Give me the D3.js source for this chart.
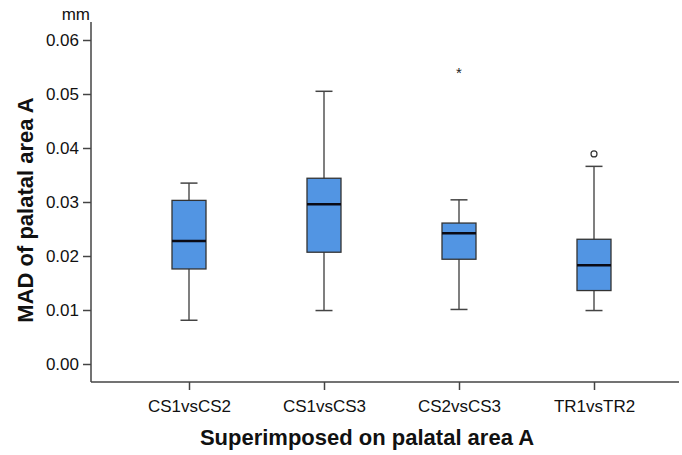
<!DOCTYPE html>
<html>
<head>
<meta charset="utf-8">
<script src="https://cdn.jsdelivr.net/npm/d3@7"></script>
<style>
  body { margin: 0; background: #fff; }
  svg { font-family: "Liberation Sans", Arial, sans-serif; }
</style>
</head>
<body>
<svg id="chart" width="682" height="455"></svg>
<script>
// groups on the x axis
const groups = ['CS1vsCS2', 'CS1vsCS3', 'CS2vsCS3', 'TR1vsTR2']
// box stats (mm)
const whiskerLow = [0.0081, 0.0099, 0.0101, 0.0099]
const q1 = [0.0176, 0.0207, 0.0194, 0.0136]
const median = [0.0228, 0.0296, 0.0242, 0.0183]
const q3 = [0.0303, 0.0344, 0.0261, 0.0231]
const whiskerHigh = [0.0335, 0.0505, 0.0304, 0.0366]
// outliers: [group, value, kind]
const outliers = [
  ['CS2vsCS3', 0.0545, 'extreme'],
  ['TR1vsTR2', 0.0389, 'outlier'],
]
const yTicks = [0, 0.01, 0.02, 0.03, 0.04, 0.05, 0.06]

const svg = d3.select('#chart')
const margins = {top: 22, right: 3, bottom: 73, left: 91}
const width = 682 - margins.left - margins.right
const height = 455 - margins.top - margins.bottom

const g = svg.append('g')
  .attr('transform', `translate(${margins.left}, ${margins.top})`)

const x = d3.scalePoint().domain(groups).range([98, 503])
const y = d3.scaleLinear().domain([0, 0.06]).range([342, 18])

const boxW = 34
const capW = 17
const axisColor = '#444'

// axes
const yAxis = g.append('g')
  .call(d3.axisLeft(y).tickValues(yTicks).tickFormat(d3.format('.2f')).tickSize(8).tickPadding(4))
yAxis.select('.domain').attr('d', `M0,0V${height}`)
const xAxis = g.append('g')
  .attr('transform', `translate(0, ${height})`)
  .call(d3.axisBottom(x).tickSize(8).tickPadding(10))
xAxis.select('.domain').attr('d', `M0,0H${width}`)

g.selectAll('.domain, .tick line')
  .attr('stroke', axisColor)
  .attr('stroke-width', 1.5)
g.selectAll('.tick text')
  .attr('font-size', 17)
  .attr('fill', '#111')

// whiskers
const stats = groups.map((k, i) => ({
  key: k, lo: whiskerLow[i], q1: q1[i], med: median[i], q3: q3[i], hi: whiskerHigh[i],
}))

const boxes = g.selectAll('.box')
  .data(stats)
  .enter()
  .append('g')
  .attr('class', 'box')
  .attr('transform', (d) => `translate(${x(d.key)}, 0)`)

boxes.append('line')
  .attr('y1', (d) => y(d.lo)).attr('y2', (d) => y(d.hi))
  .attr('stroke', '#555').attr('stroke-width', 1.5)
boxes.selectAll('.cap')
  .data((d) => [d.lo, d.hi])
  .enter()
  .append('line')
  .attr('x1', -capW / 2).attr('x2', capW / 2)
  .attr('y1', (v) => y(v)).attr('y2', (v) => y(v))
  .attr('stroke', '#444').attr('stroke-width', 1.5)
boxes.append('rect')
  .attr('x', -boxW / 2).attr('width', boxW)
  .attr('y', (d) => y(d.q3))
  .attr('height', (d) => y(d.q1) - y(d.q3))
  .attr('fill', '#5295e3')
  .attr('stroke', '#333').attr('stroke-width', 1.3)
boxes.append('line')
  .attr('x1', -boxW / 2).attr('x2', boxW / 2)
  .attr('y1', (d) => y(d.med)).attr('y2', (d) => y(d.med))
  .attr('stroke', '#0a0a14').attr('stroke-width', 2.5)

// outliers
outliers.forEach(([k, v, kind]) => {
  if (kind === 'outlier') {
    g.append('circle')
      .attr('cx', x(k)).attr('cy', y(v)).attr('r', 3)
      .attr('fill', 'none').attr('stroke', '#333').attr('stroke-width', 1.2)
  } else {
    g.append('text')
      .attr('x', x(k)).attr('y', y(v))
      .attr('dy', '0.55em')
      .attr('text-anchor', 'middle')
      .attr('font-size', 15)
      .attr('fill', '#222')
      .text('*')
  }
})

// axis titles
svg.append('text')
  .attr('x', 90).attr('y', 20)
  .attr('text-anchor', 'end')
  .attr('font-size', 17)
  .attr('fill', '#111')
  .text('mm')

svg.append('text')
  .attr('transform', 'translate(33, 210) rotate(-90)')
  .attr('text-anchor', 'middle')
  .attr('font-size', 22)
  .attr('font-weight', 'bold')
  .attr('fill', '#111')
  .text('MAD of palatal area A')

svg.append('text')
  .attr('x', 367).attr('y', 445)
  .attr('text-anchor', 'middle')
  .attr('font-size', 22)
  .attr('font-weight', 'bold')
  .attr('fill', '#111')
  .text('Superimposed on palatal area A')
</script>
</body>
</html>
